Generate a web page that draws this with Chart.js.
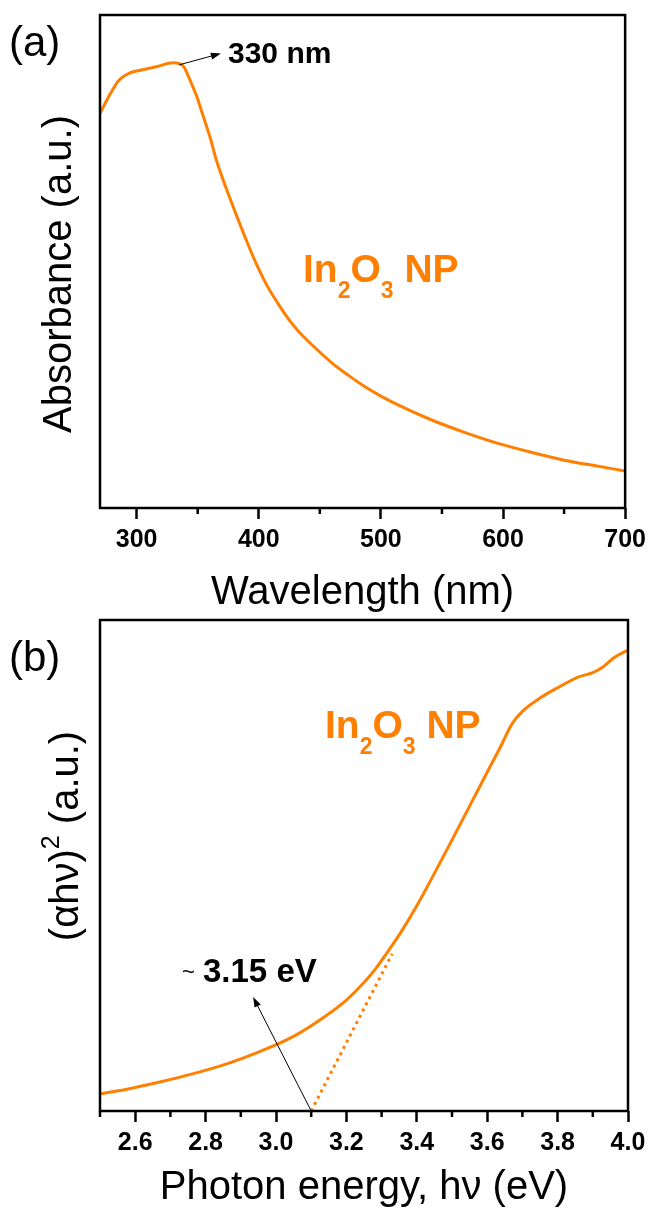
<!DOCTYPE html>
<html>
<head>
<meta charset="utf-8">
<script src="https://cdn.jsdelivr.net/npm/chart.js@4.4.1/dist/chart.umd.min.js"></script>
<style>
  body { margin: 0; background: #fff; }
  #wrap { position: relative; width: 652px; height: 1212px; }
  canvas { position: absolute; left: 0; }
  #absChart { top: 0; }
  #taucChart { top: 600px; }
</style>
</head>
<body>
<div id="wrap">
  <canvas id="absChart" width="652" height="640"></canvas>
  <canvas id="taucChart" width="652" height="612"></canvas>
</div>
<script>
// Panel (a): absorbance spectrum (a.u.)
const wavelengths = [270, 278, 285, 294, 305, 316, 330, 338, 343, 349, 355, 360, 365, 370, 376, 382, 390, 398, 407, 417, 425, 433, 447, 460, 474, 487, 500, 514, 541, 569, 596, 623, 650, 677, 700];
const absorbance = [0.801, 0.838, 0.866, 0.882, 0.889, 0.895, 0.903, 0.897, 0.872, 0.836, 0.791, 0.753, 0.708, 0.671, 0.631, 0.592, 0.542, 0.495, 0.450, 0.410, 0.381, 0.357, 0.323, 0.294, 0.268, 0.246, 0.227, 0.209, 0.179, 0.153, 0.131, 0.113, 0.097, 0.085, 0.075];
const wavelengthTicks = [300, 400, 500, 600, 700];
const wavelengthMinorTicks = [350, 450, 550, 650];

// Panel (b): Tauc plot (a.u.) and linear extrapolation
const photonEnergy = [2.5, 2.58, 2.67, 2.76, 2.86, 2.95, 3.05, 3.14, 3.20, 3.24, 3.28, 3.32, 3.36, 3.40, 3.45, 3.50, 3.55, 3.60, 3.64, 3.67, 3.70, 3.75, 3.80, 3.86, 3.90, 3.93, 3.96, 4.0];
const taucValues = [0.035, 0.045, 0.059, 0.075, 0.096, 0.120, 0.152, 0.193, 0.226, 0.254, 0.287, 0.327, 0.370, 0.418, 0.484, 0.552, 0.621, 0.690, 0.745, 0.788, 0.814, 0.841, 0.862, 0.884, 0.893, 0.905, 0.923, 0.939];
const fitEnergy = [3.1, 3.33];
const fitValues = [0, 0.32];
const energyTicks = [2.6, 2.8, 3.0, 3.2, 3.4, 3.6, 3.8, 4.0];
const energyMinorTicks = [2.5, 2.7, 2.9, 3.1, 3.3, 3.5, 3.7, 3.9];

const ORANGE = '#ff8000';
const FONT = "'Liberation Sans', Arial, sans-serif";

function xy(xs, ys) {
  return xs.map((x, i) => ({ x: x, y: ys[i] }));
}

function drawArrow(ctx, x1, y1, x2, y2) {
  const ang = Math.atan2(y2 - y1, x2 - x1);
  const c = Math.cos(ang), s = Math.sin(ang);
  const len = 10, half = 3.5;
  ctx.save();
  ctx.strokeStyle = '#000';
  ctx.fillStyle = '#000';
  ctx.lineWidth = 1;
  ctx.beginPath();
  ctx.moveTo(x1, y1);
  ctx.lineTo(x2 - c * len * 0.8, y2 - s * len * 0.8);
  ctx.stroke();
  ctx.beginPath();
  ctx.moveTo(x2, y2);
  ctx.lineTo(x2 - c * len - s * half, y2 - s * len + c * half);
  ctx.lineTo(x2 - c * len + s * half, y2 - s * len - c * half);
  ctx.closePath();
  ctx.fill();
  ctx.restore();
}

// runs: [text, font, dy]
function runsWidth(ctx, runs) {
  let w = 0;
  runs.forEach(r => { ctx.font = r[1]; w += ctx.measureText(r[0]).width; });
  return w;
}

function drawRuns(ctx, x, y, runs) {
  runs.forEach(r => {
    ctx.font = r[1];
    ctx.fillText(r[0], x, y + r[2]);
    x += ctx.measureText(r[0]).width;
  });
}

function formulaRuns() {
  const big = `bold 39px ${FONT}`, small = `bold 23px ${FONT}`;
  return [['In', big, 0], ['2', small, 16], ['O', big, 0], ['3', small, 16], [' NP', big, 0]];
}

function drawYTitle(ctx, cx, cy, runs) {
  ctx.save();
  ctx.translate(cx, cy);
  ctx.rotate(-Math.PI / 2);
  ctx.fillStyle = '#000';
  ctx.textBaseline = 'middle';
  ctx.textAlign = 'left';
  drawRuns(ctx, -runsWidth(ctx, runs) / 2, 0, runs);
  ctx.restore();
}

// frame, minor ticks and per-panel annotations
function makeDecor(minorTicks, extras) {
  return {
    id: 'decor',
    afterDraw(chart) {
      const { ctx, chartArea: a, scales: { x } } = chart;
      ctx.save();
      ctx.strokeStyle = '#000';
      ctx.lineWidth = 2.5;
      ctx.strokeRect(a.left, a.top, a.right - a.left, a.bottom - a.top);
      ctx.beginPath();
      minorTicks.forEach(v => {
        const px = x.getPixelForValue(v);
        ctx.moveTo(px, a.bottom);
        ctx.lineTo(px, a.bottom + 6);
      });
      ctx.stroke();
      ctx.restore();
      extras(chart);
    }
  };
}

function decorateAbs(chart) {
  const { ctx, scales: { x, y } } = chart;
  ctx.save();
  ctx.fillStyle = '#000';
  ctx.textBaseline = 'alphabetic';
  ctx.font = `42px ${FONT}`;
  ctx.fillText('(a)', 9, 56);

  drawYTitle(ctx, 59.5, 274, [['Absorbance (a.u.)', `40px ${FONT}`, 0]]);

  drawArrow(ctx, x.getPixelForValue(335), y.getPixelForValue(0.899),
    x.getPixelForValue(369), y.getPixelForValue(0.922));
  ctx.fillStyle = '#000';
  ctx.font = `bold 30px ${FONT}`;
  ctx.fillText('330 nm', 228, 63);

  ctx.fillStyle = ORANGE;
  drawRuns(ctx, 303, 282, formulaRuns());
  ctx.restore();
}

function decorateTauc(chart) {
  const { ctx, scales: { x, y } } = chart;
  ctx.save();
  ctx.fillStyle = '#000';
  ctx.textBaseline = 'alphabetic';
  ctx.font = `42px ${FONT}`;
  ctx.fillText('(b)', 9, 71);

  drawYTitle(ctx, 66.5, 236, [
    ['(\u03b1h\u03bd)', `40px ${FONT}`, 0],
    ['2', `25px ${FONT}`, -14],
    [' (a.u.)', `40px ${FONT}`, 0]
  ]);

  ctx.fillStyle = ORANGE;
  drawRuns(ctx, 325, 138, formulaRuns());

  drawArrow(ctx, x.getPixelForValue(fitEnergy[0]), y.getPixelForValue(fitValues[0]),
    x.getPixelForValue(2.935), y.getPixelForValue(0.232));
  ctx.fillStyle = '#000';
  ctx.font = `22px ${FONT}`;
  ctx.fillText('~', 182, 379);
  ctx.font = `bold 33px ${FONT}`;
  ctx.fillText('3.15 eV', 203, 382);
  ctx.restore();
}

function xAxis(min, max, majorTicks, height, title, titleSize, titlePad, fmt) {
  return {
    type: 'linear',
    min: min,
    max: max,
    afterBuildTicks: s => { s.ticks = majorTicks.map(v => ({ value: v })); },
    afterFit: s => { s.height = height; },
    grid: { drawOnChartArea: false, tickLength: 11, tickWidth: 2.5, tickColor: '#000' },
    border: { display: false },
    ticks: {
      padding: 6, color: '#000', autoSkip: false, maxRotation: 0,
      font: { family: FONT, size: 25, weight: 'bold' },
      callback: fmt
    },
    title: {
      display: true, text: title, color: '#000',
      font: { family: FONT, size: titleSize },
      padding: { top: 0, bottom: titlePad }
    }
  };
}

const baseOptions = {
  responsive: false,
  animation: false,
  plugins: { legend: { display: false }, tooltip: { enabled: false } }
};

new Chart(document.getElementById('absChart'), {
  type: 'line',
  data: {
    datasets: [{
      data: xy(wavelengths, absorbance),
      borderColor: ORANGE, borderWidth: 3, pointRadius: 0,
      cubicInterpolationMode: 'monotone'
    }]
  },
  options: {
    ...baseOptions,
    layout: { padding: { left: 100, right: 24, top: 15, bottom: 20 } },
    scales: {
      x: xAxis(270, 700, wavelengthTicks, 112, 'Wavelength (nm)', 40, 3, v => String(v)),
      y: { min: 0, max: 1, display: false }
    }
  },
  plugins: [makeDecor(wavelengthMinorTicks, decorateAbs)]
});

new Chart(document.getElementById('taucChart'), {
  type: 'line',
  data: {
    datasets: [{
      data: xy(photonEnergy, taucValues),
      borderColor: ORANGE, borderWidth: 3, pointRadius: 0,
      cubicInterpolationMode: 'monotone'
    }, {
      data: xy(fitEnergy, fitValues),
      borderColor: ORANGE, borderWidth: 3, pointRadius: 0,
      borderDash: [3, 4]
    }]
  },
  options: {
    ...baseOptions,
    layout: { padding: { left: 100, right: 24, top: 20, bottom: 0 } },
    scales: {
      x: xAxis(2.5, 4.0, energyTicks, 101, 'Photon energy, h\u03bd (eV)', 40, 0, v => Number(v).toFixed(1)),
      y: { min: 0, max: 1, display: false }
    }
  },
  plugins: [makeDecor(energyMinorTicks, decorateTauc)]
});
</script>
</body>
</html>
